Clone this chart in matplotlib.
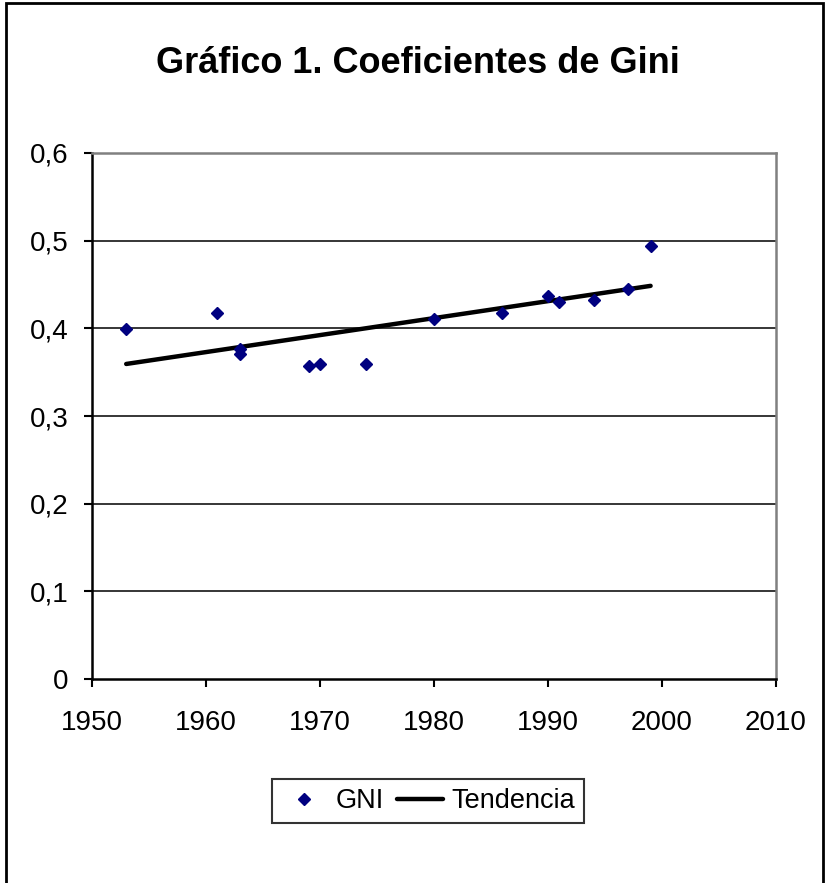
import numpy as np
import matplotlib
matplotlib.use('Agg')
import matplotlib.pyplot as plt
from matplotlib.patches import Rectangle
from matplotlib.ticker import FuncFormatter

plt.rcParams['font.family'] = ['Liberation Sans', 'DejaVu Sans']

# Gini coefficients
years = [1953, 1961, 1963, 1963, 1969, 1970, 1974, 1980, 1986, 1990, 1991, 1994, 1997, 1999]
gini = [0.399, 0.418, 0.376, 0.371, 0.357, 0.359, 0.359, 0.411, 0.417, 0.437, 0.430, 0.432, 0.445, 0.494]

title = 'Gráfico 1. Coeficientes de Gini'
xticks = [1950, 1960, 1970, 1980, 1990, 2000, 2010]
yticks = [0, 0.1, 0.2, 0.3, 0.4, 0.5, 0.6]

fig = plt.figure(figsize=(8.27, 8.83), dpi=100)
ax = fig.add_axes([92 / 827, 1 - 679 / 883, (776 - 92) / 827, (679 - 153) / 883])

# linear trend from the data
coef = np.polyfit(years, gini, 1)
tx = np.array([min(years), max(years)])
ax.plot(tx, np.polyval(coef, tx), color='black', lw=3.2, solid_capstyle='round',
        label='Tendencia', zorder=3)
ax.plot(years, gini, linestyle='none', marker='D', color='#000080', ms=6.6,
        label='GNI', zorder=4)

ax.set_xlim(1950, 2010)
ax.set_ylim(0, 0.6)
ax.set_xticks(xticks)
ax.set_yticks(yticks)
ax.yaxis.set_major_formatter(FuncFormatter(lambda v, p: ('%g' % round(v, 1)).replace('.', ',')))
for y in yticks[1:-1]:
    ax.axhline(y, color='black', lw=1.1, zorder=1)

ax.tick_params(axis='x', direction='out', length=6, width=1.5, labelsize=20, pad=16)
ax.tick_params(axis='y', direction='out', length=6, width=1.5, labelsize=20, pad=11)
for s in ['left', 'bottom']:
    ax.spines[s].set_color('black')
    ax.spines[s].set_linewidth(1.8)
for s in ['top', 'right']:
    ax.spines[s].set_color('#808080')
    ax.spines[s].set_linewidth(1.8)

fig.text(418 / 827, 1 - 73 / 883, title, ha='center', va='baseline',
         fontsize=26, fontweight='bold')

h, l = ax.get_legend_handles_labels()
leg = fig.legend([h[1], h[0]], [l[1], l[0]], loc='center', ncol=2,
                 bbox_to_anchor=(428 / 827, 1 - 801 / 883), bbox_transform=fig.transFigure,
                 fontsize=19.5, frameon=True, fancybox=False, edgecolor='black',
                 handlelength=1.7, handletextpad=0.3, columnspacing=0.5,
                 borderpad=0.35, markerscale=0.85)
leg.get_frame().set_linewidth(1.5)

fig.patches.append(Rectangle((6 / 827, -0.05), (823 - 6) / 827, 1.05 - 3 / 883,
                             transform=fig.transFigure, fill=False,
                             edgecolor='black', lw=2))

fig.savefig('out.png', dpi=100)
